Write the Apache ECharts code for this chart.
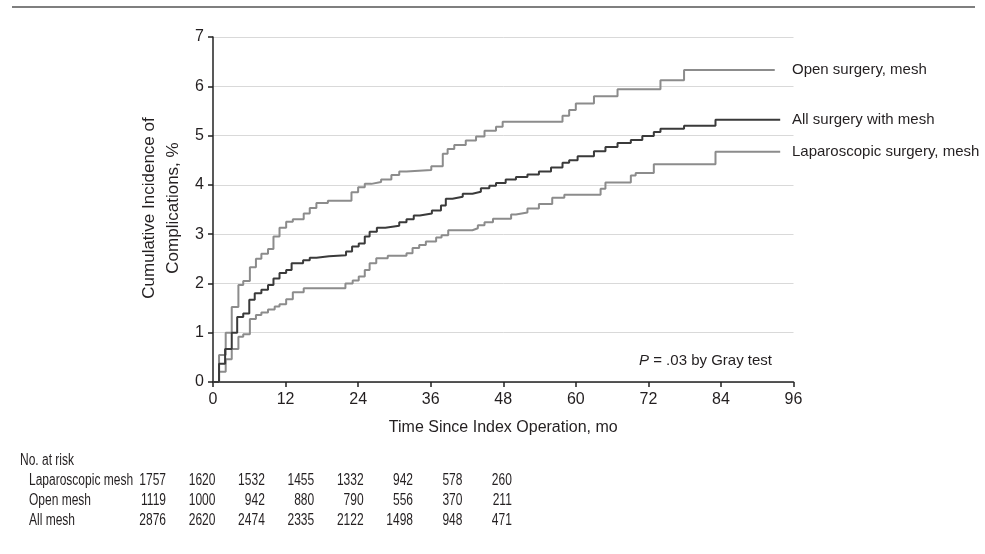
<!DOCTYPE html>
<html>
<head>
<meta charset="utf-8">
<script src="https://cdn.jsdelivr.net/npm/echarts@6/dist/echarts.min.js"></script>
<style>
html,body{margin:0;padding:0;background:#fff;}
#chart{width:985px;height:554px;}
</style>
</head>
<body>
<div id="chart"></div>
<script>
// ---- data ----
var xTicks = [0, 12, 24, 36, 48, 60, 72, 84, 96];
var yTicks = [0, 1, 2, 3, 4, 5, 6, 7];

var seriesNames = ['Open surgery, mesh', 'All surgery with mesh', 'Laparoscopic surgery, mesh'];

var openTime = [0,1,2.1,3.1,4.2,5,6.1,7.1,8,9.1,10,11,12.1,13.2,15,16,17.1,19,22.9,24,25.1,26.2,27.8,29.5,30.8,32,36.1,38,38.8,39.9,41.8,43.5,44.9,46.8,47.9,57.8,58.9,60,63,66.9,74,77.9,92.9];
var openValue = [0,0.55,1.0,1.52,1.97,2.05,2.33,2.5,2.6,2.7,2.95,3.13,3.25,3.3,3.42,3.53,3.63,3.68,3.85,3.95,4.02,4.06,4.11,4.2,4.27,4.3,4.38,4.63,4.73,4.81,4.9,4.98,5.1,5.18,5.28,5.4,5.52,5.65,5.8,5.94,6.12,6.33,6.33];

var allTime = [0,1,2,3.1,4,5,6,6.9,8,9.1,10,11,12.1,13,14.9,16,17.1,19.2,22,23,24.1,25.1,25.9,27.1,28.5,30.8,32,33.2,34.2,36.2,37.7,38.5,39.6,41.3,42.9,44.3,45.7,46.8,48.4,50.1,52,53.9,55.9,57.8,58.9,60.3,63,64.9,66.9,69.1,71,72.9,74,77.9,83.1,93.8];
var allValue = [0,0.37,0.67,1.0,1.32,1.39,1.67,1.8,1.87,1.97,2.1,2.21,2.27,2.41,2.47,2.52,2.55,2.57,2.65,2.75,2.81,2.95,3.05,3.13,3.17,3.24,3.3,3.38,3.42,3.48,3.58,3.72,3.76,3.82,3.86,3.93,3.98,4.04,4.11,4.16,4.21,4.27,4.35,4.45,4.5,4.58,4.68,4.77,4.85,4.91,4.99,5.07,5.14,5.2,5.32,5.32];

var lapTime = [0,1,2.1,3.1,4.2,5,6.1,7.1,8,9.1,10.2,11,12.1,13.2,15,21.9,23.1,24.1,25.1,25.9,27,28.9,32,33,34.1,35.2,36.9,37.8,38.9,42.9,43.8,44.9,46.3,49.3,50.1,52,53.9,56.1,58.1,64.1,64.9,69.1,69.9,72.9,83.1,93.8];
var lapValue = [0,0.21,0.46,0.67,0.92,0.97,1.28,1.36,1.41,1.47,1.53,1.58,1.68,1.82,1.9,2.0,2.06,2.14,2.27,2.41,2.51,2.56,2.61,2.72,2.78,2.85,2.93,2.98,3.08,3.12,3.18,3.24,3.31,3.4,3.44,3.52,3.61,3.74,3.8,3.92,4.05,4.19,4.24,4.42,4.67,4.67];

var riskRowLabels = ['Laparoscopic mesh', 'Open mesh', 'All mesh'];
var riskLap  = [1757, 1620, 1532, 1455, 1332, 942, 578, 260];
var riskOpen = [1119, 1000, 942, 880, 790, 556, 370, 211];
var riskAll  = [2876, 2620, 2474, 2335, 2122, 1498, 948, 471];

// ---- build ----
function pairs(t, v) { return t.map(function (x, i) { return [x, v[i]]; }); }

var FONT = '"Liberation Sans Narrow", "Liberation Sans", sans-serif';
var TXT = '#231f20';
var LIGHT = '#8c8c8c';
var DARK = '#3a3a3a';

var graphics = [];
// top rule
graphics.push({ type: 'line', shape: { x1: 12, y1: 7, x2: 975, y2: 7 }, style: { stroke: '#555', lineWidth: 1.5 } });
// y-axis title (two lines)
graphics.push({ type: 'text', x: 149, y: 208, rotation: Math.PI / 2,
  style: { text: 'Cumulative Incidence of', font: '17px ' + FONT, fill: TXT, textAlign: 'center', textVerticalAlign: 'middle' } });
graphics.push({ type: 'text', x: 173, y: 208, rotation: Math.PI / 2,
  style: { text: 'Complications, %', font: '17px ' + FONT, fill: TXT, textAlign: 'center', textVerticalAlign: 'middle' } });
// right-side curve labels
var labelY = [70, 120, 152];
seriesNames.forEach(function (n, i) {
  graphics.push({ type: 'text', x: 792, y: labelY[i],
    style: { text: n, font: '15px ' + FONT, fill: TXT, textAlign: 'left', textVerticalAlign: 'middle' } });
});
// P value
graphics.push({ type: 'text', x: 772, y: 361,
  style: { text: '{i|P} = .03 by Gray test', textAlign: 'right', textVerticalAlign: 'middle',
    font: '15px ' + FONT, fill: TXT,
    rich: { i: { fontStyle: 'italic', fontSize: 15, fontFamily: FONT, fill: TXT } } } });
// risk table (condensed text)
var SX = 0.75;
var RF = '16px ' + FONT;
graphics.push({ type: 'text', x: 20, y: 461, scaleX: SX,
  style: { text: 'No. at risk', font: RF, fill: TXT, textAlign: 'left', textVerticalAlign: 'middle' } });
var riskRows = [riskLap, riskOpen, riskAll];
var rowY = [481, 501, 521];
riskRows.forEach(function (row, r) {
  graphics.push({ type: 'text', x: 29, y: rowY[r], scaleX: SX,
    style: { text: riskRowLabels[r], font: RF, fill: TXT, textAlign: 'left', textVerticalAlign: 'middle' } });
  row.forEach(function (v, c) {
    graphics.push({ type: 'text', x: 166 + 49.4 * c, y: rowY[r], scaleX: SX,
      style: { text: String(v), font: RF, fill: TXT, textAlign: 'right', textVerticalAlign: 'middle' } });
  });
});

function mkSeries(name, t, v, color, z) {
  return { type: 'line', name: name, data: pairs(t, v), step: 'end', showSymbol: false, symbol: 'none',
    lineStyle: { color: color, width: 2 }, z: z, animation: false };
}

var chart = echarts.init(document.getElementById('chart'), null, { renderer: 'canvas' });
chart.setOption({
  animation: false,
  backgroundColor: '#fff',
  grid: { left: 213, right: 191.5, top: 37, bottom: 172, containLabel: false },
  xAxis: {
    type: 'value', min: 0, max: 96, interval: 12,
    name: 'Time Since Index Operation, mo', nameLocation: 'middle', nameGap: 38,
    nameTextStyle: { fontFamily: FONT, fontSize: 16, color: TXT },
    axisLine: { show: true, onZero: false, lineStyle: { color: '#222', width: 1.5 } },
    axisTick: { show: true, length: 5, lineStyle: { color: '#222', width: 1.5 } },
    axisLabel: { fontFamily: FONT, fontSize: 16, color: TXT, margin: 10,
      formatter: function (v) { return xTicks.indexOf(v) >= 0 ? String(v) : ''; } },
    splitLine: { show: false }
  },
  yAxis: {
    type: 'value', min: 0, max: 7, interval: 1,
    axisLine: { show: true, lineStyle: { color: '#222', width: 1.5 } },
    axisTick: { show: true, length: 5, lineStyle: { color: '#222', width: 1.5 } },
    axisLabel: { fontFamily: FONT, fontSize: 16, color: TXT, margin: 9,
      formatter: function (v) { return yTicks.indexOf(v) >= 0 ? String(v) : ''; } },
    splitLine: { show: true, lineStyle: { color: '#d9d9d9', width: 1 } }
  },
  series: [
    mkSeries(seriesNames[0], openTime, openValue, LIGHT, 3),
    mkSeries(seriesNames[1], allTime, allValue, DARK, 4),
    mkSeries(seriesNames[2], lapTime, lapValue, LIGHT, 3)
  ],
  graphic: graphics
});
</script>
</body>
</html>
